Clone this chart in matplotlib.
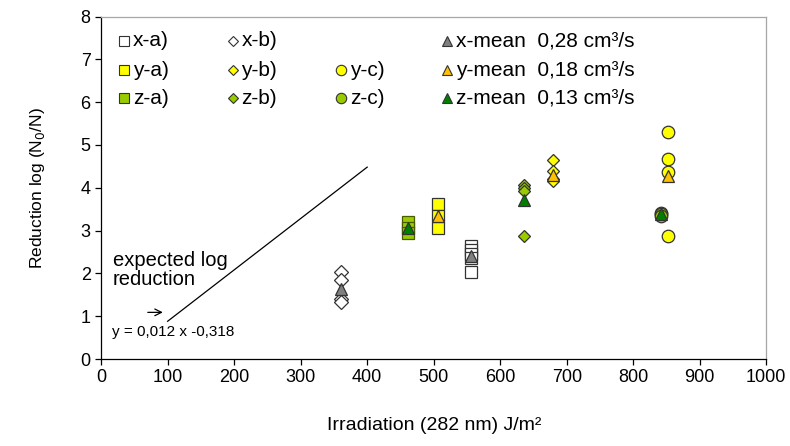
import matplotlib
matplotlib.use("Agg")
import matplotlib.pyplot as plt

DARK = "#333333"
plt.rcParams.update({
    "font.family": ["Liberation Sans", "DejaVu Sans"],
    "font.size": 12,
    "axes.linewidth": 0.9,
})

# irradiation (J/m²) and log reduction per series
xa_x = [556, 556, 556, 556, 556]
xa_y = [2.65, 2.55, 2.45, 2.35, 2.03]
xb_x = [360, 360, 360, 360]
xb_y = [2.03, 1.84, 1.41, 1.33]
xm_x = [360, 556]
xm_y = [1.63, 2.40]

ya_x = [507, 507, 507]
ya_y = [3.62, 3.35, 3.05]
yb_x = [680, 680, 680, 680]
yb_y = [4.65, 4.40, 4.20, 4.15]
yc_x = [852, 852, 852, 852]
yc_y = [5.30, 4.67, 4.36, 2.88]
ym_x = [507, 680, 852]
ym_y = [3.34, 4.30, 4.28]

za_x = [462, 462, 462]
za_y = [3.20, 3.07, 2.95]
zb_x = [636, 636, 636, 636]
zb_y = [4.07, 4.00, 3.93, 2.87]
zc_x = [842, 842, 842]
zc_y = [3.42, 3.38, 3.35]
zm_x = [462, 636, 842]
zm_y = [3.05, 3.72, 3.38]

# expected log reduction, y = 0,012 x -0,318
line_x = [100, 400]
line_y = [0.882, 4.482]

WHITE, GRAY = "white", "#808080"
YEL, ORANGE = "#FFFF00", "#FFC000"
LIME, GREEN = "#99CC00", "#008000"

fig = plt.figure(figsize=(7.9, 4.46), dpi=100)
ax = fig.add_axes([0.128, 0.195, 0.842, 0.768])

ax.plot(line_x, line_y, color="black", lw=0.9, zorder=1)

def pts(x, y, m, fc, ms, ec=DARK):
    ax.plot(x, y, ls="none", marker=m, ms=ms, mfc=fc, mec=ec, mew=0.9, zorder=3)

pts(xa_x, xa_y, "s", WHITE, 9)
pts(xb_x, xb_y, "D", WHITE, 7)
pts(xm_x, xm_y, "^", GRAY, 9)
pts(ya_x, ya_y, "s", YEL, 9)
pts(yb_x, yb_y, "D", YEL, 6.5)
pts(yc_x, yc_y, "o", YEL, 9)
pts(ym_x, ym_y, "^", ORANGE, 9)
pts(za_x, za_y, "s", LIME, 9, ec="#4a5a00")
pts(zb_x, zb_y, "D", LIME, 6.5)
pts(zc_x, zc_y, "o", LIME, 9)
pts(zm_x, zm_y, "^", GREEN, 9)

# legend drawn as a grid of marker + label
legend_rows = [
    [("s", WHITE, "x-a)"), ("D", WHITE, "x-b)"), None, ("^", GRAY, "x-mean  0,28 cm³/s")],
    [("s", YEL, "y-a)"), ("D", YEL, "y-b)"), ("o", YEL, "y-c)"), ("^", ORANGE, "y-mean  0,18 cm³/s")],
    [("s", LIME, "z-a)"), ("D", LIME, "z-b)"), ("o", LIME, "z-c)"), ("^", GREEN, "z-mean  0,13 cm³/s")],
]
col_x = [35, 198, 361, 520]
row_y = [7.43, 6.75, 6.09]
for ry, row in zip(row_y, legend_rows):
    for cx, item in zip(col_x, row):
        if item is None:
            continue
        m, fc, lab = item
        ms = 5.5 if m == "D" else 7.5
        ax.plot([cx], [ry], ls="none", marker=m, ms=ms, mfc=fc, mec=DARK, mew=0.8)
        ax.text(cx + 13, ry, lab, va="center", ha="left", fontsize=15)

ax.text(18, 2.08, "expected log\nreduction", va="center", ha="left", fontsize=14.5,
        linespacing=1.0)
ax.annotate("", xy=(97, 1.09), xytext=(66, 1.09),
            arrowprops=dict(arrowstyle="->", color="black", lw=0.9))
ax.text(17, 0.63, "y = 0,012 x -0,318", va="center", ha="left", fontsize=11)

ax.set_xlim(0, 1000)
ax.set_ylim(0, 8)
ax.set_xticks(range(0, 1001, 100))
ax.set_yticks(range(0, 9))
ax.tick_params(direction="out", length=4, width=0.9, labelsize=13, colors="black")
ax.spines["top"].set_color("#a6a6a6")
ax.spines["right"].set_color("#a6a6a6")
ax.set_xlabel("Irradiation (282 nm) J/m²", fontsize=14, labelpad=22)
ax.set_ylabel("Reduction log (N$_0$/N)", fontsize=12.5, labelpad=24)

fig.savefig("out.png", dpi=100, facecolor="white")
